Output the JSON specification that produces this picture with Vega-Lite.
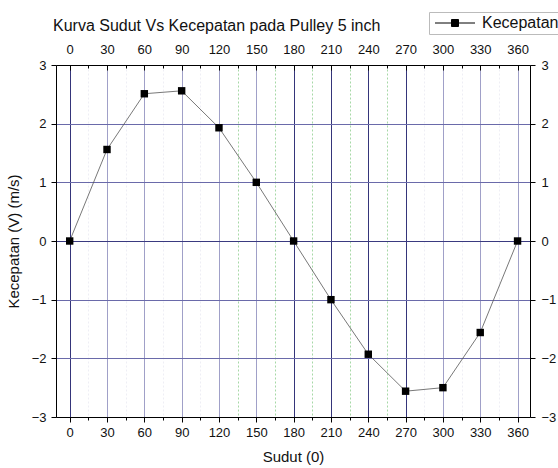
{
  "$schema": "https://vega.github.io/schema/vega-lite/v6.json",
  "width": 474,
  "height": 352,
  "autosize": {"type": "none"},
  "padding": {"left": 56, "top": 65, "right": 28, "bottom": 51},
  "background": "white",
  "config": {"font": "Liberation Sans", "view": {"stroke": null}},
  "title": {
    "text": "Kurva Sudut Vs Kecepatan pada Pulley 5 inch",
    "anchor": "start",
    "frame": "group",
    "dx": -3,
    "offset": -22,
    "fontSize": 16,
    "fontWeight": "normal",
    "color": "#111"
  },
  "data": {
    "values": [
      {"sudut": 0, "v": 0},
      {"sudut": 30, "v": 1.56},
      {"sudut": 60, "v": 2.51},
      {"sudut": 90, "v": 2.56},
      {"sudut": 120, "v": 1.93},
      {"sudut": 150, "v": 1.0},
      {"sudut": 180, "v": 0},
      {"sudut": 210, "v": -1.0},
      {"sudut": 240, "v": -1.93},
      {"sudut": 270, "v": -2.56},
      {"sudut": 300, "v": -2.5},
      {"sudut": 330, "v": -1.56},
      {"sudut": 360, "v": 0}
    ]
  },
  "layer": [
    {
      "mark": {"type": "line", "color": "#555", "strokeWidth": 0.8},
      "encoding": {
        "x": {
          "field": "sudut",
          "type": "quantitative",
          "scale": {"domain": [-11, 370], "nice": false, "zero": false},
          "axis": {
            "orient": "bottom",
            "values": [0,15,30,45,60,75,90,105,120,135,150,165,180,195,210,225,240,255,270,285,300,315,330,345,360],
            "format": "d",
            "labelExpr": "datum.value % 30 == 0 ? datum.label : ''",
            "labelOverlap": false,
            "labelFlush": false,
            "labelFontSize": 13,
            "labelColor": "#111",
            "labelPadding": 4,
            "tickColor": "black",
            "tickSize": {"condition": {"test": "datum.value % 30 == 0", "value": 5}, "value": 3},
            "domainColor": "black",
            "grid": true,
            "gridWidth": 1,
            "gridOpacity": 1,
            "gridColor": {
              "condition": [
                {"test": "indexof([0,180,210,240,270], datum.value) >= 0", "value": "#35357a"},
                {"test": "datum.value % 30 == 0", "value": "#a0a0c8"},
                {"test": "datum.value >= 135 && datum.value <= 255", "value": "#a6d8a6"}
              ],
              "value": "#eeeef5"
            },
            "gridDash": {"condition": {"test": "datum.value % 30 == 0", "value": []}, "value": [2, 2]},
            "title": "Sudut (0)",
            "titleFontSize": 15,
            "titleFontWeight": "normal",
            "titleColor": "#111",
            "titlePadding": 10
          }
        },
        "y": {
          "field": "v",
          "type": "quantitative",
          "scale": {"domain": [-3, 3], "nice": false, "zero": false},
          "axis": {
            "orient": "left",
            "values": [-3,-2.5,-2,-1.5,-1,-0.5,0,0.5,1,1.5,2,2.5,3],
            "format": "d",
            "labelExpr": "datum.value % 1 == 0 ? datum.label : ''",
            "labelOverlap": false,
            "labelFlush": false,
            "labelFontSize": 13,
            "labelColor": "#111",
            "labelPadding": 5,
            "tickColor": "black",
            "tickSize": {"condition": {"test": "datum.value % 1 == 0", "value": 5}, "value": 3},
            "domainColor": "black",
            "grid": true,
            "gridWidth": 1,
            "gridOpacity": 1,
            "gridColor": {
              "condition": [
                {"test": "datum.value == 0", "value": "#3a3a80"},
                {"test": "datum.value % 1 == 0", "value": "#6a6aaa"}
              ],
              "value": "#d8d8e8"
            },
            "gridDash": {"condition": {"test": "datum.value % 1 == 0", "value": []}, "value": [2, 2]},
            "title": "Kecepatan (V) (m/s)",
            "titleFontSize": 15,
            "titleFontWeight": "normal",
            "titleColor": "#111",
            "titlePadding": 10
          }
        }
      }
    },
    {
      "mark": {"type": "point", "shape": "square", "filled": true, "size": 55, "opacity": 1},
      "encoding": {
        "x": {
          "field": "sudut",
          "type": "quantitative",
          "scale": {"domain": [-11, 370], "nice": false, "zero": false},
          "axis": {
            "orient": "top",
            "values": [0,15,30,45,60,75,90,105,120,135,150,165,180,195,210,225,240,255,270,285,300,315,330,345,360],
            "format": "d",
            "labelExpr": "datum.value % 30 == 0 ? datum.label : ''",
            "labelOverlap": false,
            "labelFlush": false,
            "labelFontSize": 13,
            "labelColor": "#111",
            "labelPadding": 14,
            "tickColor": "black",
            "tickSize": {"condition": {"test": "datum.value % 30 == 0", "value": -5}, "value": -3},
            "domainColor": "black",
            "grid": false,
            "title": null
          }
        },
        "y": {
          "field": "v",
          "type": "quantitative",
          "scale": {"domain": [-3, 3], "nice": false, "zero": false},
          "axis": {
            "orient": "right",
            "values": [-3,-2.5,-2,-1.5,-1,-0.5,0,0.5,1,1.5,2,2.5,3],
            "format": "d",
            "labelExpr": "datum.value % 1 == 0 ? datum.label : ''",
            "labelOverlap": false,
            "labelFlush": false,
            "labelFontSize": 13,
            "labelColor": "#111",
            "labelPadding": 6,
            "tickColor": "black",
            "tickSize": {"condition": {"test": "datum.value % 1 == 0", "value": 5}, "value": 3},
            "domainColor": "black",
            "grid": false,
            "title": null
          }
        },
        "color": {
          "datum": "Kecepatan",
          "type": "nominal",
          "scale": {"range": ["black"]},
          "legend": {
            "orient": "none",
            "legendX": 373,
            "legendY": -53,
            "title": null,
            "symbolType": "M-1,0H2.3M3.7,0H7M2.3,-0.7H3.7V0.7H2.3Z",
            "symbolSize": 100,
            "symbolStrokeWidth": 1,
            "symbolStrokeColor": "black",
            "symbolFillColor": "black",
            "labelFontSize": 16,
            "labelColor": "#111",
            "labelOffset": 34,
            "strokeColor": "#bbbbbb",
            "padding": 3,
            "fillColor": "white"
          }
        }
      }
    }
  ],
  "resolve": {"axis": {"x": "independent", "y": "independent"}}
}
